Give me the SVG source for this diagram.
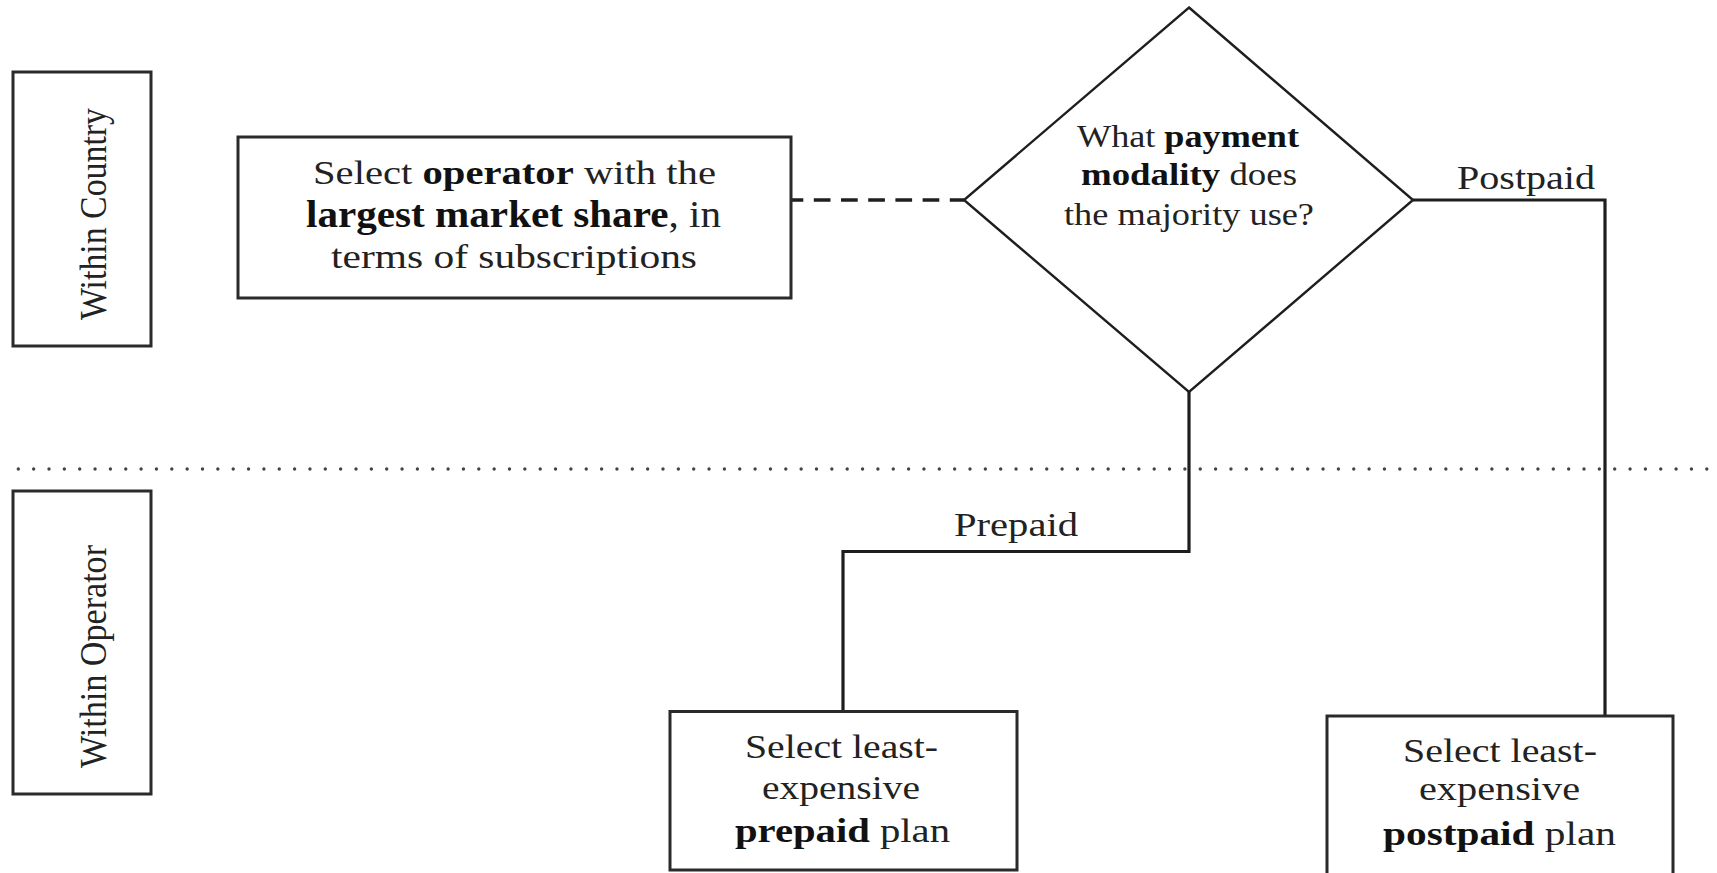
<svg xmlns="http://www.w3.org/2000/svg" width="1717" height="873" viewBox="0 0 1717 873">
<style>
  .box { fill: #fff; stroke: #2a2a2a; stroke-width: 3; }
  .dia { fill: #fff; stroke: #1e1e1e; stroke-width: 2.4; }
  .t { font-family: "Liberation Serif", "DejaVu Serif", serif; fill: #222; }
  .b { font-weight: bold; fill: #111; }
  .line { fill: none; stroke: #1e1e1e; stroke-width: 3.2; }
</style>
<rect width="1717" height="873" fill="#fff"/>

<g id="divider">
  <line x1="18.3" y1="469" x2="1717" y2="469" stroke="#444" stroke-width="3.4" stroke-linecap="round" stroke-dasharray="0 15.35"/>
</g>

<g id="connectors">
  <line x1="791" y1="200" x2="964" y2="200" stroke="#1e1e1e" stroke-width="3.5" stroke-dasharray="16.7 10.5" stroke-dashoffset="4.4"/>
  <polyline class="line" points="1189,392 1189,551.5 843,551.5 843,711"/>
  <polyline class="line" points="1413,200 1605,200 1605,716"/>
  <text class="t" x="954" y="536" font-size="34" textLength="124" lengthAdjust="spacingAndGlyphs">Prepaid</text>
  <text class="t" x="1457" y="189" font-size="34" textLength="138" lengthAdjust="spacingAndGlyphs">Postpaid</text>
</g>

<g id="within-country">
  <rect class="box" x="13" y="72" width="138" height="274"/>
  <text class="t" transform="translate(106,320) rotate(-90)" font-size="38" textLength="212" lengthAdjust="spacingAndGlyphs">Within Country</text>
</g>

<g id="within-operator">
  <rect class="box" x="13" y="491" width="138" height="303"/>
  <text class="t" transform="translate(106,768) rotate(-90)" font-size="38" textLength="223" lengthAdjust="spacingAndGlyphs">Within Operator</text>
</g>

<g id="select-operator">
  <rect class="box" x="238" y="137" width="553" height="161"/>
  <text class="t" x="313" y="184" font-size="34" textLength="403" lengthAdjust="spacingAndGlyphs">Select <tspan class="b">operator</tspan> with the</text>
  <text class="t" x="306" y="227" font-size="37" textLength="415" lengthAdjust="spacingAndGlyphs"><tspan class="b">largest market share</tspan>, in</text>
  <text class="t" x="331" y="268" font-size="34" textLength="366" lengthAdjust="spacingAndGlyphs">terms of subscriptions</text>
</g>

<g id="payment-decision">
  <polygon class="dia" points="1189,7.5 1413,200 1189,392 964,200"/>
  <text class="t" x="1077" y="147" font-size="31" textLength="222" lengthAdjust="spacingAndGlyphs">What <tspan class="b">payment</tspan></text>
  <text class="t" x="1081" y="185" font-size="31" textLength="216" lengthAdjust="spacingAndGlyphs"><tspan class="b">modality</tspan> does</text>
  <text class="t" x="1064" y="225" font-size="31" textLength="250" lengthAdjust="spacingAndGlyphs">the majority use?</text>
</g>

<g id="prepaid-plan">
  <rect class="box" x="670" y="711.5" width="347" height="158.5"/>
  <text class="t" x="745" y="758" font-size="33" textLength="193" lengthAdjust="spacingAndGlyphs">Select least-</text>
  <text class="t" x="762" y="799" font-size="33" textLength="158" lengthAdjust="spacingAndGlyphs">expensive</text>
  <text class="t" x="735" y="842" font-size="33" textLength="215" lengthAdjust="spacingAndGlyphs"><tspan class="b">prepaid</tspan> plan</text>
</g>

<g id="postpaid-plan">
  <rect class="box" x="1327" y="716" width="346" height="170"/>
  <text class="t" x="1403" y="762" font-size="33" textLength="194" lengthAdjust="spacingAndGlyphs">Select least-</text>
  <text class="t" x="1419" y="800" font-size="33" textLength="161" lengthAdjust="spacingAndGlyphs">expensive</text>
  <text class="t" x="1383" y="845" font-size="33" textLength="233" lengthAdjust="spacingAndGlyphs"><tspan class="b">postpaid</tspan> plan</text>
</g>
</svg>
